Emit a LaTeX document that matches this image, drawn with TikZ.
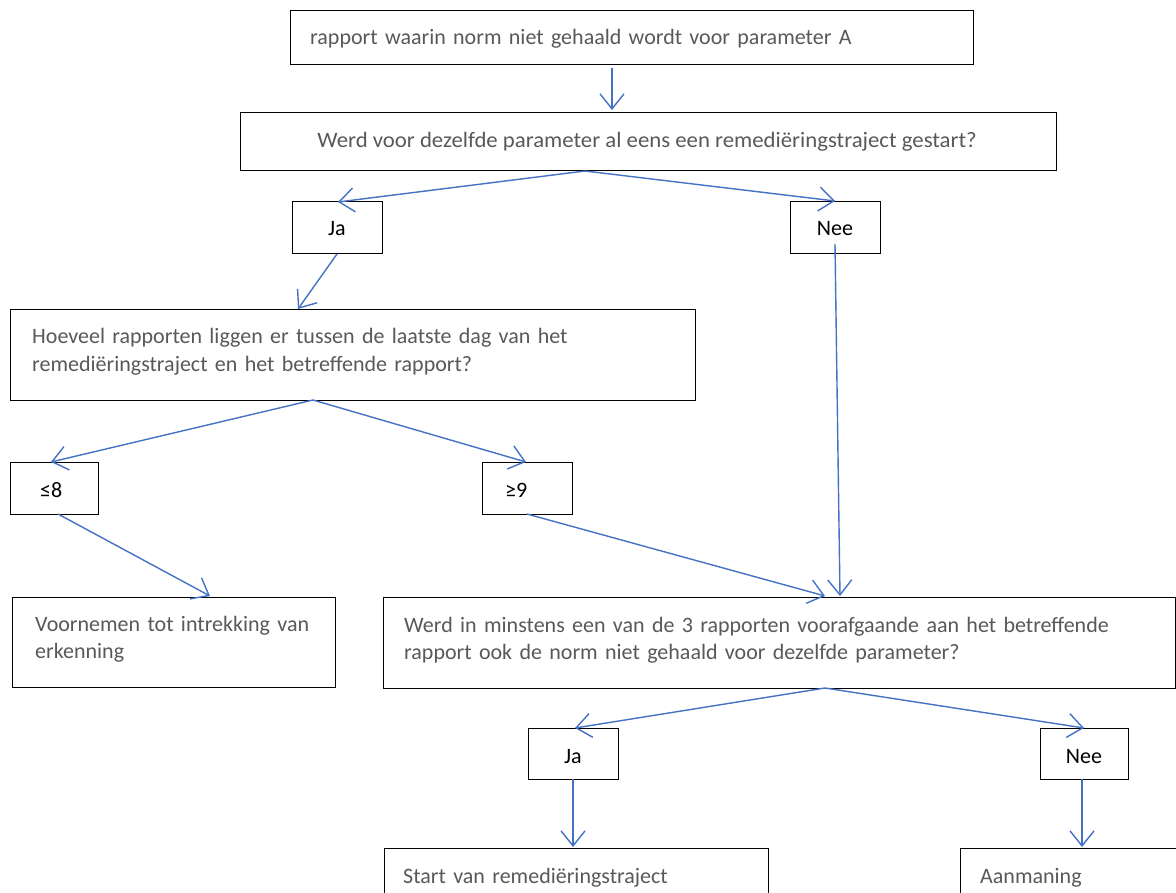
\documentclass[tikz,border=0pt]{standalone}
\usepackage{fontspec}
\setmainfont{Carlito}
\usetikzlibrary{arrows.meta}
\definecolor{arrowblue}{HTML}{4472C4}
\definecolor{txtgray}{HTML}{595959}
\begin{document}
\begin{tikzpicture}[x=1pt,y=-1pt,
  box/.style={draw=black, line width=1.3pt, rectangle, inner sep=0pt, anchor=north west},
  txt/.style={inner sep=0pt, font=\fontsize{22}{27.5}\selectfont},
  gtxt/.style={txt, text=txtgray, anchor=base west, align=left, text width=#1},
  ctxt/.style={txt, text=black, anchor=base},
  conn/.style={draw=arrowblue, line width=1.4pt, -{Straight Barb[length=15pt,width=24pt,line width=1.4pt]}}]
\useasboundingbox[fill=white] (0,0) rectangle (1176,893);
% boxes
\node[box, minimum width=683pt, minimum height=54pt] (top) at (290,10) {};
\node[box, minimum width=816pt, minimum height=58pt] (q1) at (240,112) {};
\node[box, minimum width=90pt, minimum height=52pt] (ja1) at (292,201) {};
\node[box, minimum width=90pt, minimum height=52pt] (nee1) at (790,201) {};
\node[box, minimum width=685pt, minimum height=91pt] (q2) at (10,309) {};
\node[box, minimum width=88pt, minimum height=52pt] (le8) at (10,462) {};
\node[box, minimum width=90pt, minimum height=52pt] (ge9) at (482,462) {};
\node[box, minimum width=323pt, minimum height=90pt] (voor) at (12,597) {};
\node[box, minimum width=792pt, minimum height=91pt] (q3) at (383,597) {};
\node[box, minimum width=90pt, minimum height=51pt] (ja2) at (528,728) {};
\node[box, minimum width=88pt, minimum height=51pt] (nee2) at (1040,728) {};
\node[box, minimum width=384pt, minimum height=60pt] (start) at (384,848) {};
\node[box, minimum width=260pt, minimum height=60pt] (aan) at (960,848) {};
% texts
\node[gtxt=640pt] (topt) at (310,45) {rapport waarin norm niet gehaald wordt voor parameter A};
\node[txt, text=txtgray, anchor=base, xscale=1.035] (q1t) at (647,148) {Werd voor dezelfde parameter al eens een remediëringstraject gestart?};
\node[ctxt] (ja1t) at (337,236) {Ja};
\node[ctxt] (nee1t) at (835,236) {Nee};
\node[gtxt=640pt] (q2t) at (32,344) {Hoeveel rapporten liggen er tussen de laatste dag van het\\remediëringstraject en het betreffende rapport?};
\node[txt, anchor=base west] (le8t) at (40,497) {≤8};
\node[txt, anchor=base west] (ge9t) at (505,497) {≥9};
\node[gtxt=290pt] (voort) at (35,631) {Voornemen tot intrekking van\\erkenning};
\node[gtxt=760pt] (q3t) at (404,632) {Werd in minstens een van de 3 rapporten voorafgaande aan het betreffende\\rapport ook de norm niet gehaald voor dezelfde parameter?};
\node[ctxt] (ja2t) at (573,763) {Ja};
\node[ctxt] (nee2t) at (1084,763) {Nee};
\node[gtxt=350pt] (startt) at (403,883) {Start van remediëringstraject};
\node[gtxt=190pt] (aant) at (980,883) {Aanmaning};
% connector points
\coordinate (topo) at (612,68);
\coordinate (q1i) at (612,110);
\coordinate (q1o) at (585,171);
\coordinate (ja1i) at (338,202);
\coordinate (nee1i) at (835,201);
\coordinate (ja1o) at (337,254);
\coordinate (q2i) at (298,309);
\coordinate (nee1o) at (835,244);
\coordinate (q3i) at (840,596);
\coordinate (q2o) at (313,400);
\coordinate (le8i) at (51,462);
\coordinate (ge9i) at (526,462);
\coordinate (le8o) at (58,514);
\coordinate (voori) at (210,596);
\coordinate (ge9o) at (527,514);
\coordinate (q3j) at (825,596);
\coordinate (q3o) at (825,688);
\coordinate (ja2i) at (575,728);
\coordinate (nee2i) at (1084,728);
\coordinate (ja2o) at (573,779);
\coordinate (starti) at (573,847);
\coordinate (nee2o) at (1082,779);
\coordinate (aani) at (1082,847);
% connectors
\draw[conn] (topo) -- (q1i);
\draw[conn] (q1o) -- (ja1i);
\draw[conn] (q1o) -- (nee1i);
\draw[conn] (ja1o) -- (q2i);
\draw[conn] (nee1o) -- (q3i);
\draw[conn] (q2o) -- (le8i);
\draw[conn] (q2o) -- (ge9i);
\draw[conn] (le8o) -- (voori);
\draw[conn] (ge9o) -- (q3j);
\draw[conn] (q3o) -- (ja2i);
\draw[conn] (q3o) -- (nee2i);
\draw[conn] (ja2o) -- (starti);
\draw[conn] (nee2o) -- (aani);
\end{tikzpicture}
\end{document}
